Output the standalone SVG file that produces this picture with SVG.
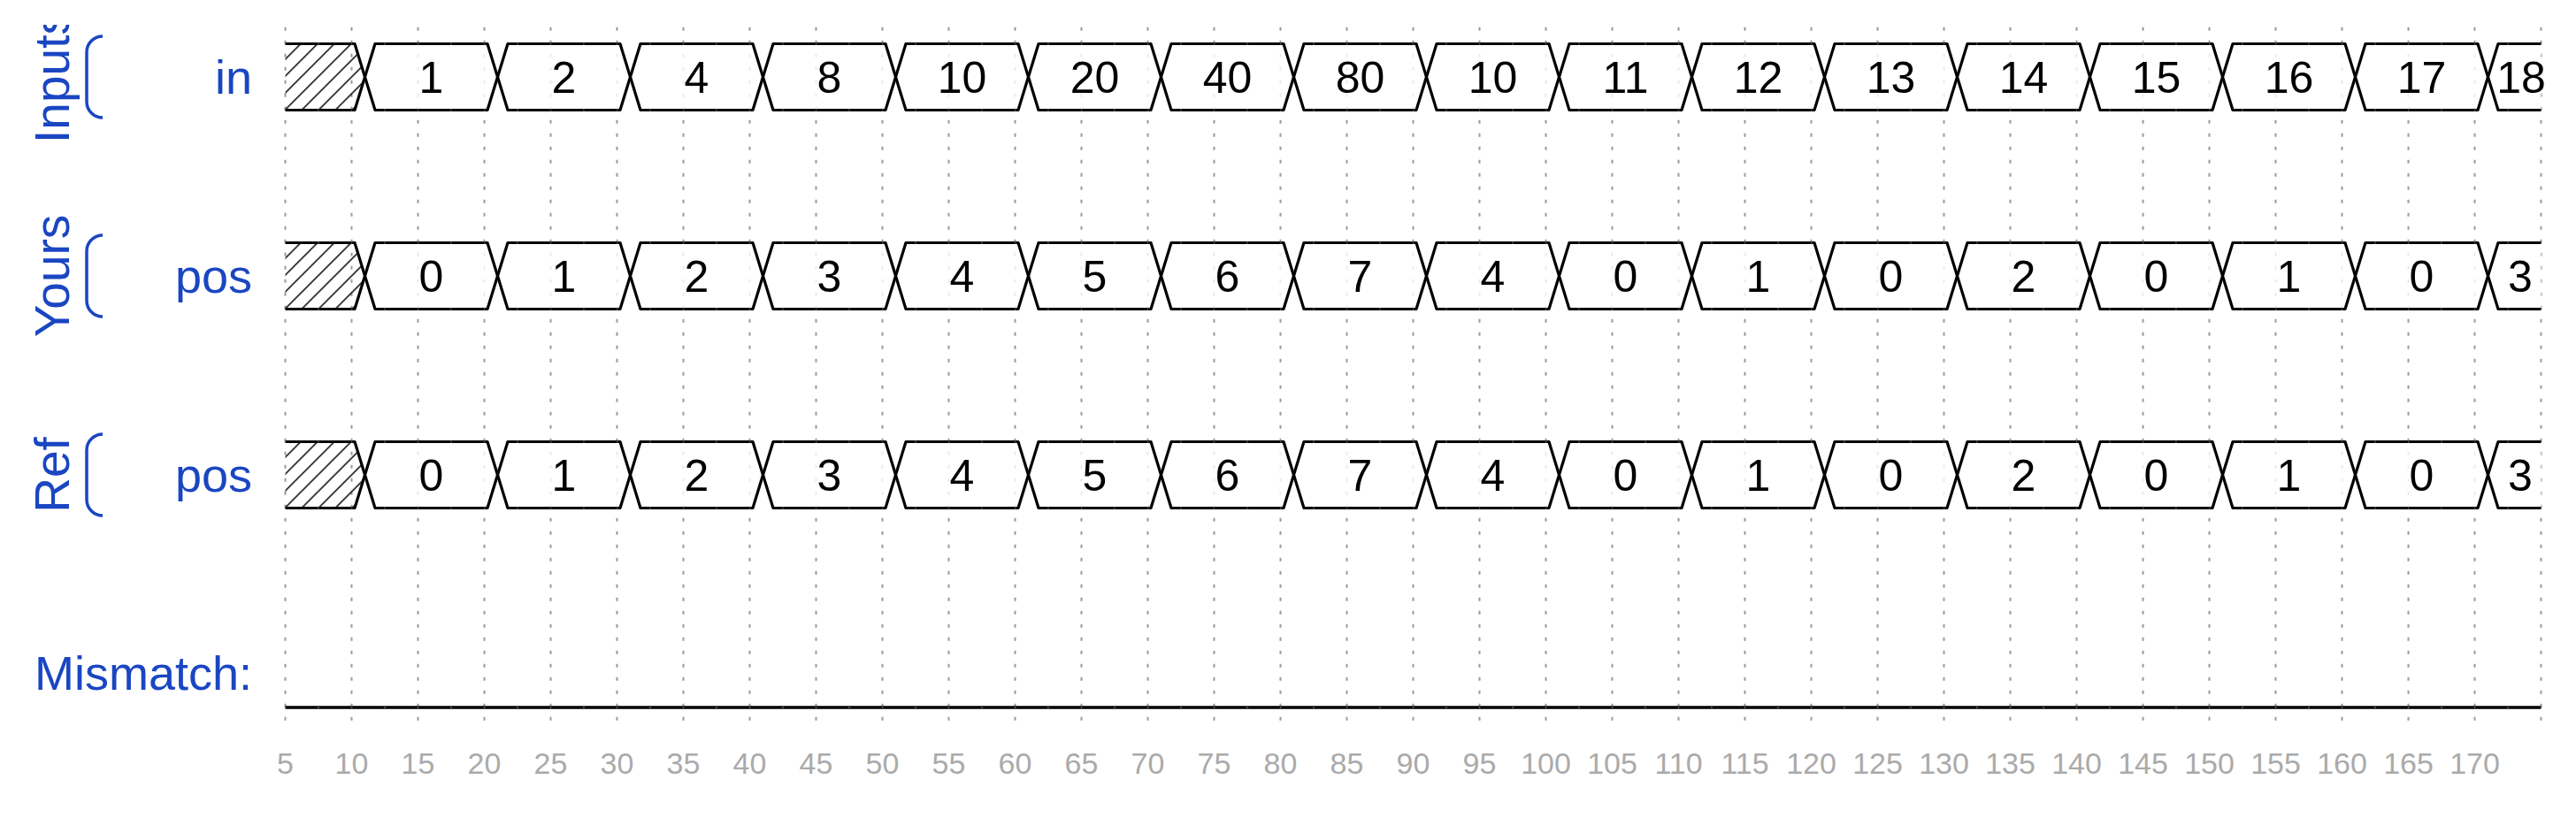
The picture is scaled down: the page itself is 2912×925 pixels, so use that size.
<svg xmlns="http://www.w3.org/2000/svg" xmlns:xlink="http://www.w3.org/1999/xlink" width="2912" height="925" viewBox="0 0 2912 925">
<style>
.lbl{font-family:"Liberation Sans",Arial,sans-serif;font-size:54px;fill:#1a46c2}
.grp{font-family:"Liberation Sans",Arial,sans-serif;font-size:55px;fill:#1a46c2;text-anchor:middle}
.val{font-family:"Liberation Sans",Arial,sans-serif;font-size:50px;fill:#000;text-anchor:middle}
.tick{font-family:"Liberation Sans",Arial,sans-serif;font-size:34px;fill:#aaaaaa;text-anchor:middle}
.wave{fill:#fff;fill-opacity:0.8;stroke:#000;stroke-width:3.2;stroke-linejoin:round}
.line{fill:none;stroke:#000;stroke-width:3.5}
.grid{fill:none;stroke:#999;stroke-width:2;stroke-dasharray:4 11}
.brk{fill:none;stroke:#1a46c2;stroke-width:3.5}
.mk{fill:url(#marks)}
</style>
<defs>
<pattern id="hatch" patternUnits="userSpaceOnUse" x="17.5" y="0" width="19" height="19"><path d="M-5,5 L5,-5 M0,19 L19,0 M14,24 L24,14" stroke="#000" stroke-width="1.5"/></pattern>
<pattern id="marks" patternUnits="userSpaceOnUse" x="321.8" y="0" width="37.5" height="10"><rect x="0" y="0" width="1.4" height="10" fill="#666"/></pattern>
<path id="seg" d="M0,0 L11.5,-37.5 H138.5 L150,0 L138.5,37.5 H11.5 Z"/>
<path id="hat" d="M322.5,-37.5 H401 L412.5,0 L401,37.5 H322.5"/>
<path id="tail" d="M2872.5,-37.5 H2824 L2812.5,0 L2824,37.5 H2872.5"/>
<path id="bracket" d="M116,-46 A18,18 0 0 0 98,-28 V28 A18,18 0 0 0 116,46"/>
<clipPath id="lclip"><rect x="0" y="-59" width="300" height="200"/></clipPath>
</defs>
<rect width="2912" height="925" fill="#fff"/>

<g id="grid">
<path class="grid" d="M322.5,30.7V815M397.5,30.7V815M472.5,30.7V815M547.5,30.7V815M622.5,30.7V815M697.5,30.7V815M772.5,30.7V815M847.5,30.7V815M922.5,30.7V815M997.5,30.7V815M1072.5,30.7V815M1147.5,30.7V815M1222.5,30.7V815M1297.5,30.7V815M1372.5,30.7V815M1447.5,30.7V815M1522.5,30.7V815M1597.5,30.7V815M1672.5,30.7V815M1747.5,30.7V815M1822.5,30.7V815M1897.5,30.7V815M1972.5,30.7V815M2047.5,30.7V815M2122.5,30.7V815M2197.5,30.7V815M2272.5,30.7V815M2347.5,30.7V815M2422.5,30.7V815M2497.5,30.7V815M2572.5,30.7V815M2647.5,30.7V815M2722.5,30.7V815M2797.5,30.7V815M2872.5,30.7V815"/>
</g>

<g id="row-inputs-in" transform="translate(0,87)">
<g clip-path="url(#lclip)"><text class="grp" transform="translate(77.5,0) rotate(-90)">Inputs</text></g>
<use xlink:href="#bracket" class="brk"/>
<text class="lbl" x="285" y="19" text-anchor="end">in</text>
<use xlink:href="#hat" fill="url(#hatch)" stroke="#000" stroke-width="3.2" stroke-linejoin="round"/>
<use xlink:href="#seg" class="wave" x="412.5"/><use xlink:href="#seg" class="wave" x="562.5"/><use xlink:href="#seg" class="wave" x="712.5"/><use xlink:href="#seg" class="wave" x="862.5"/><use xlink:href="#seg" class="wave" x="1012.5"/><use xlink:href="#seg" class="wave" x="1162.5"/><use xlink:href="#seg" class="wave" x="1312.5"/><use xlink:href="#seg" class="wave" x="1462.5"/><use xlink:href="#seg" class="wave" x="1612.5"/><use xlink:href="#seg" class="wave" x="1762.5"/><use xlink:href="#seg" class="wave" x="1912.5"/><use xlink:href="#seg" class="wave" x="2062.5"/><use xlink:href="#seg" class="wave" x="2212.5"/><use xlink:href="#seg" class="wave" x="2362.5"/><use xlink:href="#seg" class="wave" x="2512.5"/><use xlink:href="#seg" class="wave" x="2662.5"/>
<use xlink:href="#tail" class="wave"/>
<rect class="mk" x="322.5" y="-38.5" width="2551" height="2"/><rect class="mk" x="322.5" y="36.5" width="2551" height="2"/>
<text class="val" x="487.5" y="18">1</text><text class="val" x="637.5" y="18">2</text><text class="val" x="787.5" y="18">4</text><text class="val" x="937.5" y="18">8</text><text class="val" x="1087.5" y="18">10</text><text class="val" x="1237.5" y="18">20</text><text class="val" x="1387.5" y="18">40</text><text class="val" x="1537.5" y="18">80</text><text class="val" x="1687.5" y="18">10</text><text class="val" x="1837.5" y="18">11</text><text class="val" x="1987.5" y="18">12</text><text class="val" x="2137.5" y="18">13</text><text class="val" x="2287.5" y="18">14</text><text class="val" x="2437.5" y="18">15</text><text class="val" x="2587.5" y="18">16</text><text class="val" x="2737.5" y="18">17</text><text class="val" x="2850" y="18">18</text>
</g>

<g id="row-yours-pos" transform="translate(0,312)">
<text class="grp" transform="translate(77.5,0) rotate(-90)">Yours</text>
<use xlink:href="#bracket" class="brk"/>
<text class="lbl" x="285" y="19" text-anchor="end">pos</text>
<use xlink:href="#hat" fill="url(#hatch)" stroke="#000" stroke-width="3.2" stroke-linejoin="round"/>
<use xlink:href="#seg" class="wave" x="412.5"/><use xlink:href="#seg" class="wave" x="562.5"/><use xlink:href="#seg" class="wave" x="712.5"/><use xlink:href="#seg" class="wave" x="862.5"/><use xlink:href="#seg" class="wave" x="1012.5"/><use xlink:href="#seg" class="wave" x="1162.5"/><use xlink:href="#seg" class="wave" x="1312.5"/><use xlink:href="#seg" class="wave" x="1462.5"/><use xlink:href="#seg" class="wave" x="1612.5"/><use xlink:href="#seg" class="wave" x="1762.5"/><use xlink:href="#seg" class="wave" x="1912.5"/><use xlink:href="#seg" class="wave" x="2062.5"/><use xlink:href="#seg" class="wave" x="2212.5"/><use xlink:href="#seg" class="wave" x="2362.5"/><use xlink:href="#seg" class="wave" x="2512.5"/><use xlink:href="#seg" class="wave" x="2662.5"/>
<use xlink:href="#tail" class="wave"/>
<rect class="mk" x="322.5" y="-38.5" width="2551" height="2"/><rect class="mk" x="322.5" y="36.5" width="2551" height="2"/>
<text class="val" x="487.5" y="18">0</text><text class="val" x="637.5" y="18">1</text><text class="val" x="787.5" y="18">2</text><text class="val" x="937.5" y="18">3</text><text class="val" x="1087.5" y="18">4</text><text class="val" x="1237.5" y="18">5</text><text class="val" x="1387.5" y="18">6</text><text class="val" x="1537.5" y="18">7</text><text class="val" x="1687.5" y="18">4</text><text class="val" x="1837.5" y="18">0</text><text class="val" x="1987.5" y="18">1</text><text class="val" x="2137.5" y="18">0</text><text class="val" x="2287.5" y="18">2</text><text class="val" x="2437.5" y="18">0</text><text class="val" x="2587.5" y="18">1</text><text class="val" x="2737.5" y="18">0</text><text class="val" x="2849" y="18">3</text>
</g>

<g id="row-ref-pos" transform="translate(0,537)">
<text class="grp" transform="translate(77.5,0) rotate(-90)">Ref</text>
<use xlink:href="#bracket" class="brk"/>
<text class="lbl" x="285" y="19" text-anchor="end">pos</text>
<use xlink:href="#hat" fill="url(#hatch)" stroke="#000" stroke-width="3.2" stroke-linejoin="round"/>
<use xlink:href="#seg" class="wave" x="412.5"/><use xlink:href="#seg" class="wave" x="562.5"/><use xlink:href="#seg" class="wave" x="712.5"/><use xlink:href="#seg" class="wave" x="862.5"/><use xlink:href="#seg" class="wave" x="1012.5"/><use xlink:href="#seg" class="wave" x="1162.5"/><use xlink:href="#seg" class="wave" x="1312.5"/><use xlink:href="#seg" class="wave" x="1462.5"/><use xlink:href="#seg" class="wave" x="1612.5"/><use xlink:href="#seg" class="wave" x="1762.5"/><use xlink:href="#seg" class="wave" x="1912.5"/><use xlink:href="#seg" class="wave" x="2062.5"/><use xlink:href="#seg" class="wave" x="2212.5"/><use xlink:href="#seg" class="wave" x="2362.5"/><use xlink:href="#seg" class="wave" x="2512.5"/><use xlink:href="#seg" class="wave" x="2662.5"/>
<use xlink:href="#tail" class="wave"/>
<rect class="mk" x="322.5" y="-38.5" width="2551" height="2"/><rect class="mk" x="322.5" y="36.5" width="2551" height="2"/>
<text class="val" x="487.5" y="18">0</text><text class="val" x="637.5" y="18">1</text><text class="val" x="787.5" y="18">2</text><text class="val" x="937.5" y="18">3</text><text class="val" x="1087.5" y="18">4</text><text class="val" x="1237.5" y="18">5</text><text class="val" x="1387.5" y="18">6</text><text class="val" x="1537.5" y="18">7</text><text class="val" x="1687.5" y="18">4</text><text class="val" x="1837.5" y="18">0</text><text class="val" x="1987.5" y="18">1</text><text class="val" x="2137.5" y="18">0</text><text class="val" x="2287.5" y="18">2</text><text class="val" x="2437.5" y="18">0</text><text class="val" x="2587.5" y="18">1</text><text class="val" x="2737.5" y="18">0</text><text class="val" x="2849" y="18">3</text>
</g>

<g id="row-mismatch">
<text class="lbl" x="285" y="780" text-anchor="end">Mismatch:</text>
<path class="line" d="M322.5,800 H2872.5"/>
<rect class="mk" x="322.5" y="799" width="2551" height="2"/>
</g>

<g id="axis">
<text class="tick" x="322.5" y="875">5</text><text class="tick" x="397.5" y="875">10</text><text class="tick" x="472.5" y="875">15</text><text class="tick" x="547.5" y="875">20</text><text class="tick" x="622.5" y="875">25</text><text class="tick" x="697.5" y="875">30</text><text class="tick" x="772.5" y="875">35</text><text class="tick" x="847.5" y="875">40</text><text class="tick" x="922.5" y="875">45</text><text class="tick" x="997.5" y="875">50</text><text class="tick" x="1072.5" y="875">55</text><text class="tick" x="1147.5" y="875">60</text><text class="tick" x="1222.5" y="875">65</text><text class="tick" x="1297.5" y="875">70</text><text class="tick" x="1372.5" y="875">75</text><text class="tick" x="1447.5" y="875">80</text><text class="tick" x="1522.5" y="875">85</text><text class="tick" x="1597.5" y="875">90</text><text class="tick" x="1672.5" y="875">95</text><text class="tick" x="1747.5" y="875">100</text><text class="tick" x="1822.5" y="875">105</text><text class="tick" x="1897.5" y="875">110</text><text class="tick" x="1972.5" y="875">115</text><text class="tick" x="2047.5" y="875">120</text><text class="tick" x="2122.5" y="875">125</text><text class="tick" x="2197.5" y="875">130</text><text class="tick" x="2272.5" y="875">135</text><text class="tick" x="2347.5" y="875">140</text><text class="tick" x="2422.5" y="875">145</text><text class="tick" x="2497.5" y="875">150</text><text class="tick" x="2572.5" y="875">155</text><text class="tick" x="2647.5" y="875">160</text><text class="tick" x="2722.5" y="875">165</text><text class="tick" x="2797.5" y="875">170</text>
</g>
</svg>
